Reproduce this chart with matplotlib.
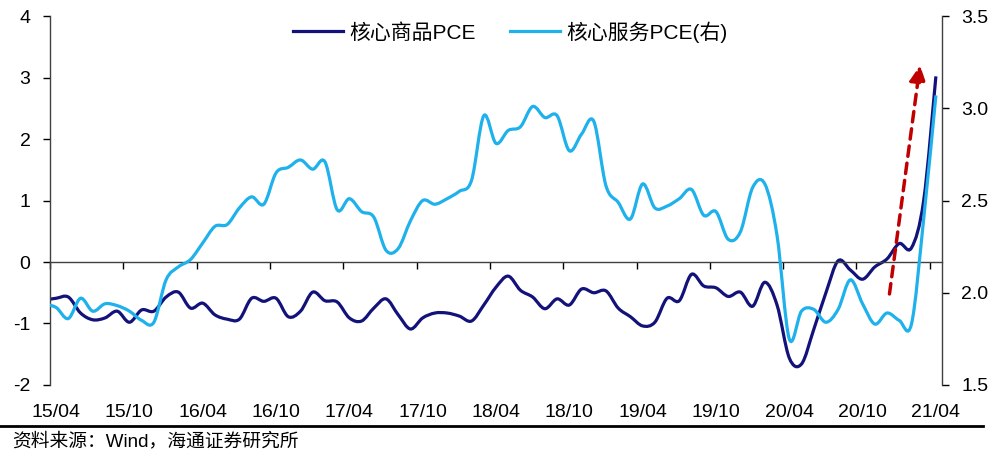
import numpy as np
import matplotlib.pyplot as plt
from matplotlib.path import Path
from matplotlib.patches import PathPatch
from matplotlib.lines import Line2D

plt.rcParams['font.family'] = ['Liberation Sans', 'Noto Sans CJK SC']
plt.rcParams['axes.unicode_minus'] = False

# Monthly data, 2015/03 - 2021/04 (first month is cut off by the axis)
tick_labels = ['15/04', '15/10', '16/04', '16/10', '17/04', '17/10', '18/04',
               '18/10', '19/04', '19/10', '20/04', '20/10', '21/04']

core_goods = [-0.62,
              -0.59, -0.57, -0.83, -0.94, -0.91, -0.80, -0.98, -0.78, -0.80, -0.57,
              -0.49, -0.75, -0.67, -0.86, -0.93, -0.93, -0.59, -0.64, -0.59, -0.89,
              -0.80, -0.49, -0.63, -0.65, -0.91, -0.96, -0.75, -0.60, -0.86, -1.09,
              -0.91, -0.83, -0.83, -0.88, -0.96, -0.70, -0.41, -0.23, -0.46, -0.57,
              -0.76, -0.60, -0.70, -0.44, -0.50, -0.47, -0.75, -0.89, -1.04, -0.98,
              -0.59, -0.63, -0.20, -0.39, -0.42, -0.56, -0.49, -0.72, -0.33, -0.70,
              -1.56, -1.66, -1.10, -0.50, 0.02, -0.13, -0.28, -0.08, 0.05, 0.30,
              0.23, 1.00, 3.02]

core_services = [1.94,
                 1.92, 1.86, 1.97, 1.90, 1.94, 1.93, 1.90, 1.85, 1.84, 2.07,
                 2.14, 2.18, 2.27, 2.36, 2.37, 2.46, 2.52, 2.48, 2.65, 2.68,
                 2.72, 2.67, 2.71, 2.45, 2.51, 2.44, 2.41, 2.23, 2.24, 2.39,
                 2.50, 2.48, 2.51, 2.55, 2.61, 2.96, 2.81, 2.88, 2.90, 3.01,
                 2.95, 2.96, 2.77, 2.86, 2.93, 2.58, 2.49, 2.40, 2.59, 2.46,
                 2.47, 2.51, 2.56, 2.42, 2.44, 2.29, 2.33, 2.57, 2.59, 2.31,
                 1.75, 1.90, 1.91, 1.84, 1.91, 2.07, 1.94, 1.83, 1.89, 1.85,
                 1.83, 2.40, 3.07]

navy = '#12127A'
cyan = '#1EB1EC'


def smooth_path(x, y):
    # Bezier curve through the points (like Excel's smoothed line)
    p = np.column_stack([x, y]).astype(float)
    ext = np.vstack([p[0], p, p[-1]])
    verts = [p[0]]
    codes = [Path.MOVETO]
    for i in range(len(p) - 1):
        p0, p1, p2, p3 = ext[i], ext[i + 1], ext[i + 2], ext[i + 3]
        verts += [p1 + (p2 - p0) / 6, p2 - (p3 - p1) / 6, p2]
        codes += [Path.CURVE4] * 3
    return Path(verts, codes)


x = np.arange(-1, len(core_goods) - 1)
n = len(tick_labels) * 6 - 5  # 73 months shown

fig = plt.figure(figsize=(10, 4.61), dpi=100)
ax = fig.add_axes([0.05, 0.165, 0.892, 0.80])
ax2 = ax.twinx()

ax.add_patch(PathPatch(smooth_path(x, core_goods), fill=False, edgecolor=navy, lw=2.3))
ax2.add_patch(PathPatch(smooth_path(x, core_services), fill=False, edgecolor=cyan, lw=2.3))

ax.set_xlim(-0.5, n - 0.5)
ax.set_ylim(-2, 4)
ax2.set_ylim(1.5, 3.5)

# left axis
ax.set_yticks(range(-2, 5))
ax.tick_params(axis='y', labelsize=14, length=5, width=1, pad=9, direction='out')
# right axis
ax2.set_yticks([1.5, 2.0, 2.5, 3.0, 3.5])
ax2.set_yticklabels(['1.5', '2.0', '2.5', '3.0', '3.5'])
ax2.tick_params(axis='y', labelsize=14, length=5, width=1, pad=9, direction='out')

# x axis sits at zero, labels at the bottom
ax.spines['bottom'].set_position(('data', 0))
ax.set_xticks(np.arange(0, n, 6))
ax.set_xticklabels(tick_labels)
ax.set_xticks(np.arange(0, n, 6) - 0.5, minor=True)
ax.tick_params(axis='x', which='major', length=0, labelsize=14, pad=102)
ax.tick_params(axis='x', which='minor', length=5, width=1, direction='out')

for a in (ax, ax2):
    a.spines['top'].set_visible(False)
    for s in a.spines.values():
        s.set_color('#404040')
        s.set_linewidth(1)
ax.spines['right'].set_visible(False)
ax2.spines['left'].set_visible(False)
ax2.spines['bottom'].set_visible(False)

# red dashed arrow
ax.annotate('', xy=(70.7, 3.20), xytext=(68.2, -0.52),
            arrowprops=dict(arrowstyle='-|>', color='#C00000', lw=2.5,
                            linestyle=(0, (3, 2)), mutation_scale=24,
                            shrinkA=0, shrinkB=0))

# legend
handles = [Line2D([], [], color=navy, lw=2.3), Line2D([], [], color=cyan, lw=2.3)]
ax2.legend(handles, ['核心商品PCE', '核心服务PCE(右)'], loc='center',
           bbox_to_anchor=(0.516, 0.957), ncol=2, frameon=False, fontsize=15,
           handlelength=2.4, handletextpad=0.3, columnspacing=1.6)

# source note
fig.add_artist(Line2D([0, 0.983], [1 - 426 / 461] * 2, color='black', lw=2))
fig.text(0.012, 1 - 441 / 461, '资料来源：Wind，海通证券研究所', fontsize=13.5, va='center')

plt.savefig('out.png', dpi=100)
